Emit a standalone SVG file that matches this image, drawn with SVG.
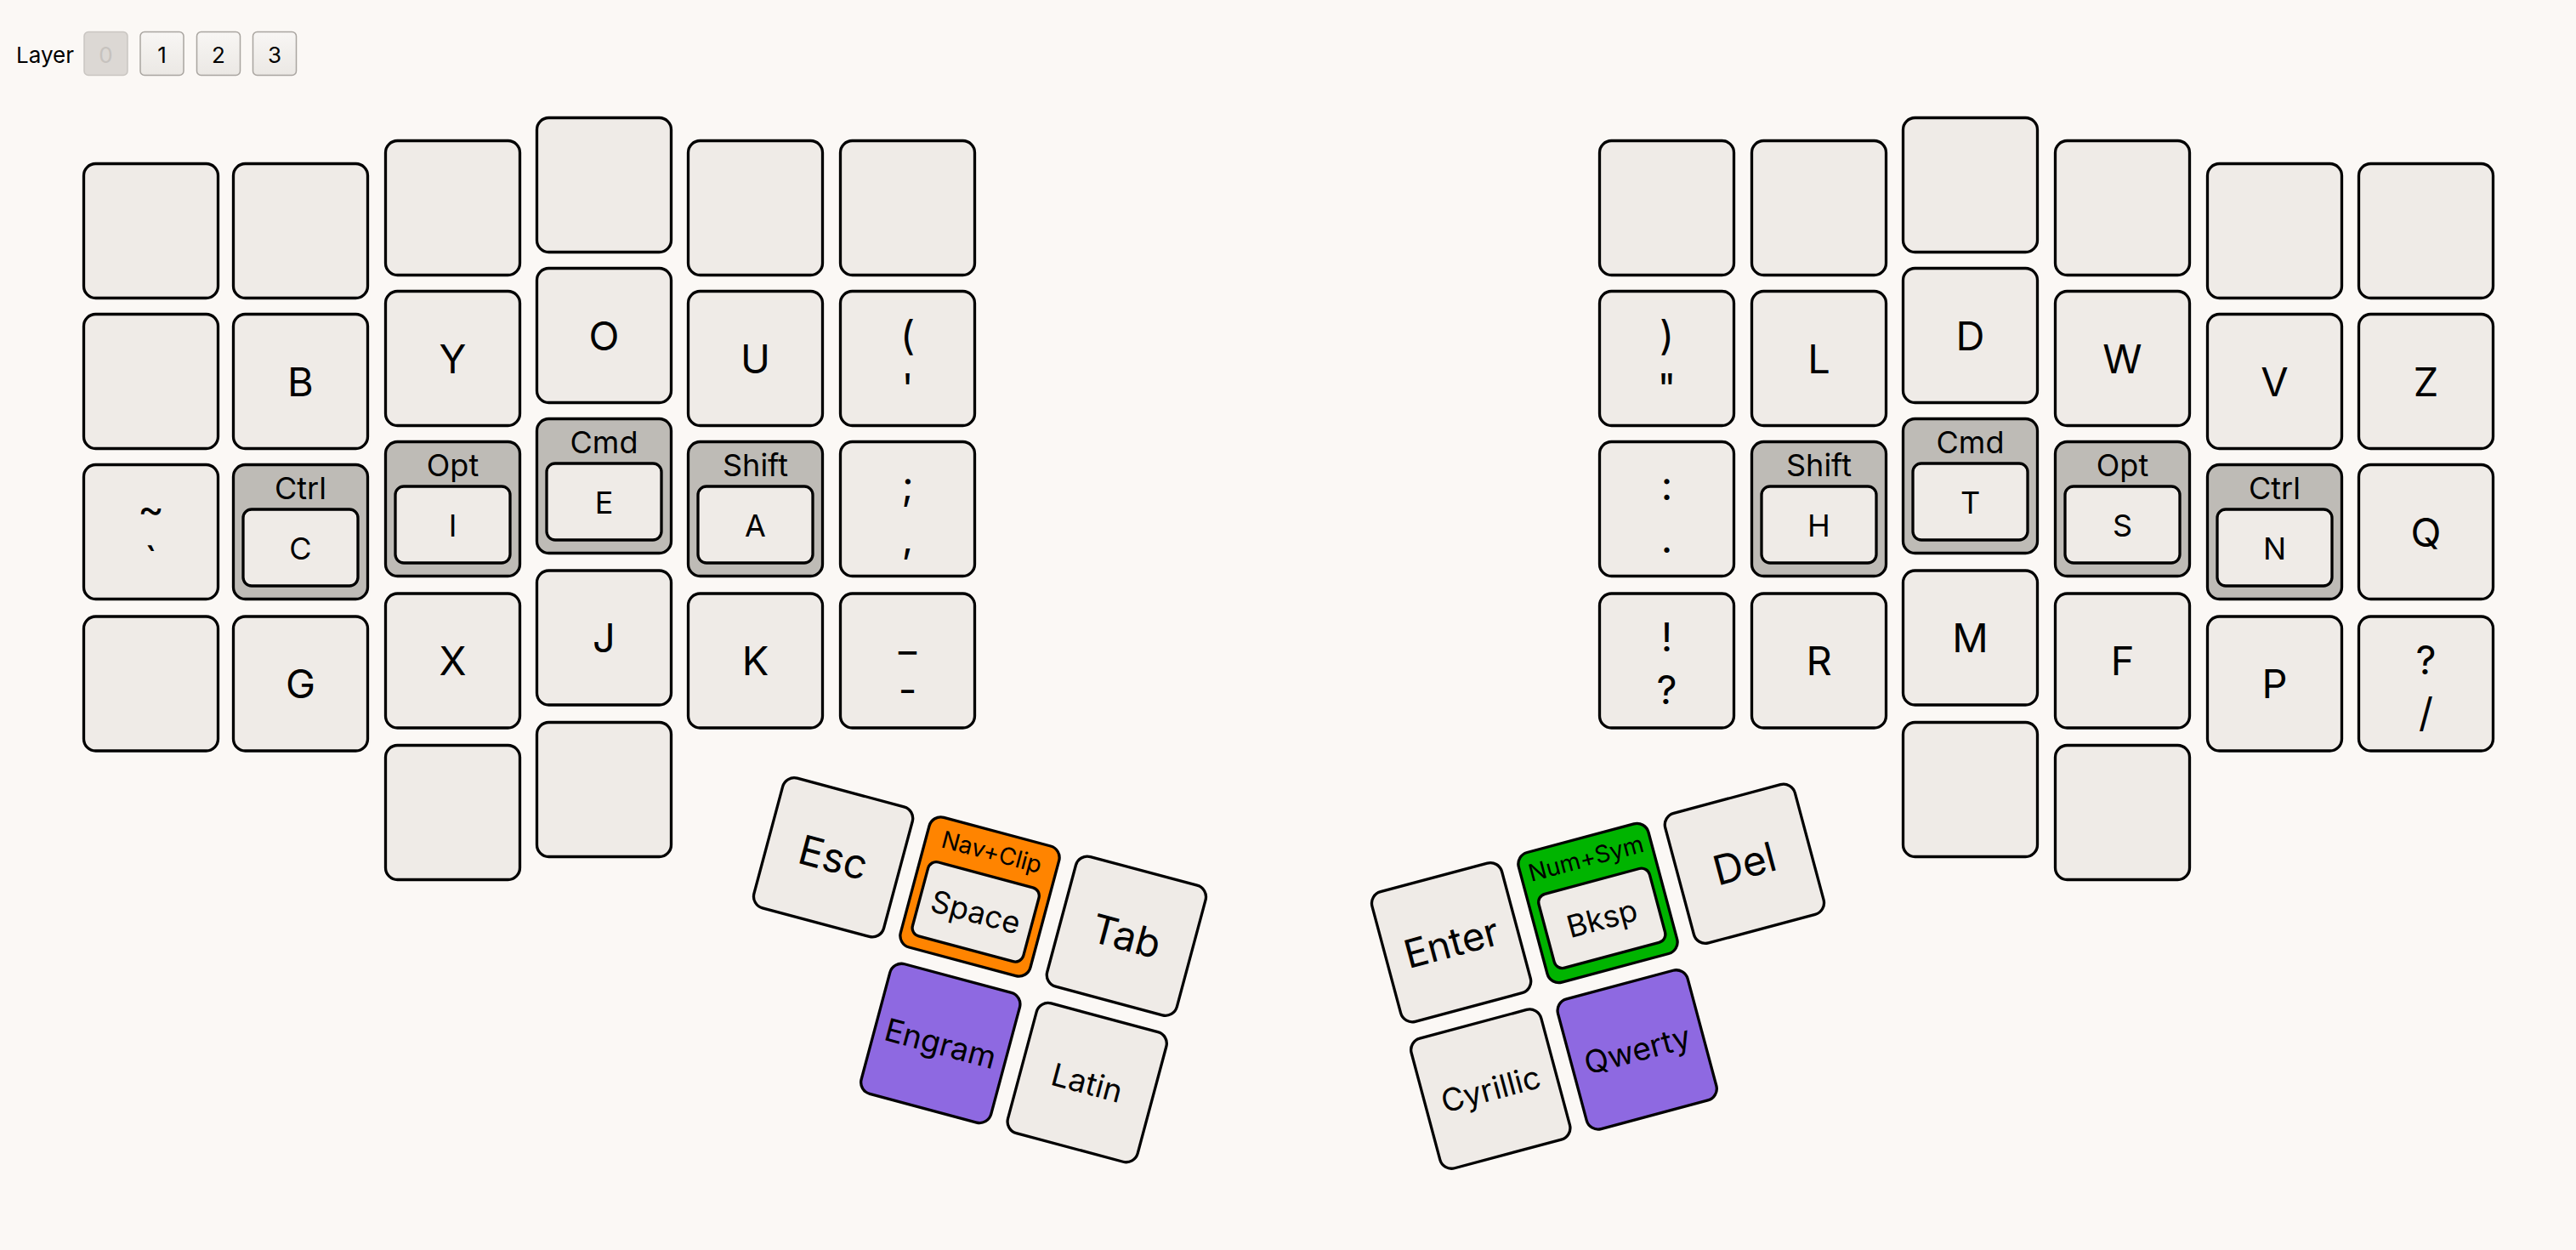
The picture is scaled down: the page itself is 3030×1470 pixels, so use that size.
<svg xmlns="http://www.w3.org/2000/svg" width="3030" height="1470" viewBox="0 0 3030 1470">
<style>
.bg{fill:#fbf8f5}
.k{fill:#efebe7;stroke:#000;stroke-width:3.3}
.h{fill:#bebbb6;stroke:#000;stroke-width:3.3}
.o{fill:#ff8400;stroke:#000;stroke-width:3.3}
.g{fill:#00b400;stroke:#000;stroke-width:3.3}
.p{fill:#8e69e1;stroke:#000;stroke-width:3.3}
text{font-family:Inter,"Liberation Sans",sans-serif;text-anchor:middle;fill:#000}
.L{font-size:47px}
.M{font-size:36px}
.S{font-size:28px}
.T{font-size:37px}
.btn{fill:#f2efec;stroke:#a9a5a0;stroke-width:1.5}
.btn0{fill:#dcd8d4;stroke:#c9c5c1;stroke-width:1.5}
.ui{font-size:26px}
</style>
<defs>
<linearGradient id="bg1" x1="0" y1="0" x2="0" y2="1"><stop offset="0" stop-color="#f8f6f4"/><stop offset="1" stop-color="#ebe8e4"/></linearGradient>
</defs>
<rect class="bg" x="0" y="0" width="3030" height="1470"/>
<g id="layer-selector">
<text class="ui" x="53" y="74">Layer</text>
<rect class="btn0" x="99" y="37.5" width="51" height="51" rx="5"/>
<text class="ui" x="124.5" y="74" style="fill:#c6c2be">0</text>
<rect class="btn" x="165" y="37.5" width="51" height="51" rx="5" style="fill:url(#bg1)"/>
<text class="ui" x="190.5" y="74">1</text>
<rect class="btn" x="231.5" y="37.5" width="51" height="51" rx="5" style="fill:url(#bg1)"/>
<text class="ui" x="257" y="74">2</text>
<rect class="btn" x="297.5" y="37.5" width="51" height="51" rx="5" style="fill:url(#bg1)"/>
<text class="ui" x="323" y="74">3</text>
</g>
<g id="connectors"/>
<!-- Left half -->
<g id="k-l1-r1" transform="translate(97,191)"><rect class="k" x="1.5" y="1.5" width="158" height="158" rx="14"/></g>
<g id="k-l1-r2" transform="translate(97,368)"><rect class="k" x="1.5" y="1.5" width="158" height="158" rx="14"/></g>
<g id="k-tilde" transform="translate(97,545)"><rect class="k" x="1.5" y="1.5" width="158" height="158" rx="14"/><text class="L" x="80.5" y="69.5">~</text><text class="L" x="80.5" y="131.5">`</text></g>
<g id="k-l1-r4" transform="translate(97,723.5)"><rect class="k" x="1.5" y="1.5" width="158" height="158" rx="14"/></g>

<g id="k-l2-r1" transform="translate(273,191)"><rect class="k" x="1.5" y="1.5" width="158" height="158" rx="14"/></g>
<g id="k-B" transform="translate(273,368)"><rect class="k" x="1.5" y="1.5" width="158" height="158" rx="14"/><text class="L" x="80.5" y="97.5">B</text></g>
<g id="k-C" transform="translate(273,545)"><rect class="h" x="1.5" y="1.5" width="158" height="158" rx="14"/><text class="M" x="80.5" y="41.7">Ctrl</text><rect class="k" x="13" y="54" width="135" height="90" rx="10"/><text class="M" x="80.5" y="112.5">C</text></g>
<g id="k-G" transform="translate(273,723.5)"><rect class="k" x="1.5" y="1.5" width="158" height="158" rx="14"/><text class="L" x="80.5" y="97.5">G</text></g>

<g id="k-l3-r1" transform="translate(452,164)"><rect class="k" x="1.5" y="1.5" width="158" height="158" rx="14"/></g>
<g id="k-Y" transform="translate(452,341)"><rect class="k" x="1.5" y="1.5" width="158" height="158" rx="14"/><text class="L" x="80.5" y="97.5">Y</text></g>
<g id="k-I" transform="translate(452,518)"><rect class="h" x="1.5" y="1.5" width="158" height="158" rx="14"/><text class="M" x="80.5" y="41.7">Opt</text><rect class="k" x="13" y="54" width="135" height="90" rx="10"/><text class="M" x="80.5" y="112.5">I</text></g>
<g id="k-X" transform="translate(452,696.5)"><rect class="k" x="1.5" y="1.5" width="158" height="158" rx="14"/><text class="L" x="80.5" y="97.5">X</text></g>
<g id="k-l3-r5" transform="translate(452,875)"><rect class="k" x="1.5" y="1.5" width="158" height="158" rx="14"/></g>

<g id="k-l4-r1" transform="translate(630,137)"><rect class="k" x="1.5" y="1.5" width="158" height="158" rx="14"/></g>
<g id="k-O" transform="translate(630,314)"><rect class="k" x="1.5" y="1.5" width="158" height="158" rx="14"/><text class="L" x="80.5" y="97.5">O</text></g>
<g id="k-E" transform="translate(630,491)"><rect class="h" x="1.5" y="1.5" width="158" height="158" rx="14"/><text class="M" x="80.5" y="41.7">Cmd</text><rect class="k" x="13" y="54" width="135" height="90" rx="10"/><text class="M" x="80.5" y="112.5">E</text></g>
<g id="k-J" transform="translate(630,669.5)"><rect class="k" x="1.5" y="1.5" width="158" height="158" rx="14"/><text class="L" x="80.5" y="97.5">J</text></g>
<g id="k-l4-r5" transform="translate(630,848)"><rect class="k" x="1.5" y="1.5" width="158" height="158" rx="14"/></g>

<g id="k-l5-r1" transform="translate(808,164)"><rect class="k" x="1.5" y="1.5" width="158" height="158" rx="14"/></g>
<g id="k-U" transform="translate(808,341)"><rect class="k" x="1.5" y="1.5" width="158" height="158" rx="14"/><text class="L" x="80.5" y="97.5">U</text></g>
<g id="k-A" transform="translate(808,518)"><rect class="h" x="1.5" y="1.5" width="158" height="158" rx="14"/><text class="M" x="80.5" y="41.7">Shift</text><rect class="k" x="13" y="54" width="135" height="90" rx="10"/><text class="M" x="80.5" y="112.5">A</text></g>
<g id="k-K" transform="translate(808,696.5)"><rect class="k" x="1.5" y="1.5" width="158" height="158" rx="14"/><text class="L" x="80.5" y="97.5">K</text></g>

<g id="k-l6-r1" transform="translate(987,164)"><rect class="k" x="1.5" y="1.5" width="158" height="158" rx="14"/></g>
<g id="k-quote" transform="translate(987,341)"><rect class="k" x="1.5" y="1.5" width="158" height="158" rx="14"/><text class="L" x="80.5" y="69.5">(</text><text class="L" x="80.5" y="131.5">'</text></g>
<g id="k-comma" transform="translate(987,518)"><rect class="k" x="1.5" y="1.5" width="158" height="158" rx="14"/><text class="L" x="80.5" y="69.5">;</text><text class="L" x="80.5" y="131.5">,</text></g>
<g id="k-minus" transform="translate(987,696.5)"><rect class="k" x="1.5" y="1.5" width="158" height="158" rx="14"/><text class="L" x="80.5" y="69.5">_</text><text class="L" x="80.5" y="131.5">-</text></g>

<!-- Right half -->
<g id="k-r7-r1" transform="translate(1880,164)"><rect class="k" x="1.5" y="1.5" width="158" height="158" rx="14"/></g>
<g id="k-dquote" transform="translate(1880,341)"><rect class="k" x="1.5" y="1.5" width="158" height="158" rx="14"/><text class="L" x="80.5" y="69.5">)</text><text class="L" x="80.5" y="131.5">"</text></g>
<g id="k-dot" transform="translate(1880,518)"><rect class="k" x="1.5" y="1.5" width="158" height="158" rx="14"/><text class="L" x="80.5" y="69.5">:</text><text class="L" x="80.5" y="131.5">.</text></g>
<g id="k-qmark" transform="translate(1880,696.5)"><rect class="k" x="1.5" y="1.5" width="158" height="158" rx="14"/><text class="L" x="80.5" y="69.5">!</text><text class="L" x="80.5" y="131.5">?</text></g>

<g id="k-r8-r1" transform="translate(2059,164)"><rect class="k" x="1.5" y="1.5" width="158" height="158" rx="14"/></g>
<g id="k-L" transform="translate(2059,341)"><rect class="k" x="1.5" y="1.5" width="158" height="158" rx="14"/><text class="L" x="80.5" y="97.5">L</text></g>
<g id="k-H" transform="translate(2059,518)"><rect class="h" x="1.5" y="1.5" width="158" height="158" rx="14"/><text class="M" x="80.5" y="41.7">Shift</text><rect class="k" x="13" y="54" width="135" height="90" rx="10"/><text class="M" x="80.5" y="112.5">H</text></g>
<g id="k-R" transform="translate(2059,696.5)"><rect class="k" x="1.5" y="1.5" width="158" height="158" rx="14"/><text class="L" x="80.5" y="97.5">R</text></g>

<g id="k-r9-r1" transform="translate(2237,137)"><rect class="k" x="1.5" y="1.5" width="158" height="158" rx="14"/></g>
<g id="k-D" transform="translate(2237,314)"><rect class="k" x="1.5" y="1.5" width="158" height="158" rx="14"/><text class="L" x="80.5" y="97.5">D</text></g>
<g id="k-T" transform="translate(2237,491)"><rect class="h" x="1.5" y="1.5" width="158" height="158" rx="14"/><text class="M" x="80.5" y="41.7">Cmd</text><rect class="k" x="13" y="54" width="135" height="90" rx="10"/><text class="M" x="80.5" y="112.5">T</text></g>
<g id="k-M" transform="translate(2237,669.5)"><rect class="k" x="1.5" y="1.5" width="158" height="158" rx="14"/><text class="L" x="80.5" y="97.5">M</text></g>
<g id="k-r9-r5" transform="translate(2237,848)"><rect class="k" x="1.5" y="1.5" width="158" height="158" rx="14"/></g>

<g id="k-r10-r1" transform="translate(2416,164)"><rect class="k" x="1.5" y="1.5" width="158" height="158" rx="14"/></g>
<g id="k-W" transform="translate(2416,341)"><rect class="k" x="1.5" y="1.5" width="158" height="158" rx="14"/><text class="L" x="80.5" y="97.5">W</text></g>
<g id="k-S" transform="translate(2416,518)"><rect class="h" x="1.5" y="1.5" width="158" height="158" rx="14"/><text class="M" x="80.5" y="41.7">Opt</text><rect class="k" x="13" y="54" width="135" height="90" rx="10"/><text class="M" x="80.5" y="112.5">S</text></g>
<g id="k-F" transform="translate(2416,696.5)"><rect class="k" x="1.5" y="1.5" width="158" height="158" rx="14"/><text class="L" x="80.5" y="97.5">F</text></g>
<g id="k-r10-r5" transform="translate(2416,875)"><rect class="k" x="1.5" y="1.5" width="158" height="158" rx="14"/></g>

<g id="k-r11-r1" transform="translate(2595,191)"><rect class="k" x="1.5" y="1.5" width="158" height="158" rx="14"/></g>
<g id="k-V" transform="translate(2595,368)"><rect class="k" x="1.5" y="1.5" width="158" height="158" rx="14"/><text class="L" x="80.5" y="97.5">V</text></g>
<g id="k-N" transform="translate(2595,545)"><rect class="h" x="1.5" y="1.5" width="158" height="158" rx="14"/><text class="M" x="80.5" y="41.7">Ctrl</text><rect class="k" x="13" y="54" width="135" height="90" rx="10"/><text class="M" x="80.5" y="112.5">N</text></g>
<g id="k-P" transform="translate(2595,723.5)"><rect class="k" x="1.5" y="1.5" width="158" height="158" rx="14"/><text class="L" x="80.5" y="97.5">P</text></g>

<g id="k-r12-r1" transform="translate(2773,191)"><rect class="k" x="1.5" y="1.5" width="158" height="158" rx="14"/></g>
<g id="k-Z" transform="translate(2773,368)"><rect class="k" x="1.5" y="1.5" width="158" height="158" rx="14"/><text class="L" x="80.5" y="97.5">Z</text></g>
<g id="k-Q" transform="translate(2773,545)"><rect class="k" x="1.5" y="1.5" width="158" height="158" rx="14"/><text class="L" x="80.5" y="97.5">Q</text></g>
<g id="k-slash" transform="translate(2773,723.5)"><rect class="k" x="1.5" y="1.5" width="158" height="158" rx="14"/><text class="L" x="80.5" y="69.5">?</text><text class="L" x="80.5" y="131.5">/</text></g>

<!-- Left thumbs -->
<g id="k-Esc" transform="translate(980.1,1008.3) rotate(15)"><rect class="k" x="-79" y="-79" width="158" height="158" rx="14"/><text class="L" x="0" y="17" style="font-size:48px">Esc</text></g>
<g id="k-Space" transform="translate(1152.5,1054.5) rotate(15)"><rect class="o" x="-79" y="-79" width="158" height="158" rx="14"/><text class="S" x="0" y="-44.5">Nav+Clip</text><rect class="k" x="-67.5" y="-26.5" width="135" height="90" rx="10"/><text class="M" x="0" y="31.5">Space</text></g>
<g id="k-Tab" transform="translate(1324.9,1100.7) rotate(15)"><rect class="k" x="-79" y="-79" width="158" height="158" rx="14"/><text class="L" x="0" y="17">Tab</text></g>
<g id="k-Engram" transform="translate(1106.3,1226.9) rotate(15)"><rect class="p" x="-79" y="-79" width="158" height="158" rx="14"/><text class="T" x="0" y="13.5">Engram</text></g>
<g id="k-Latin" transform="translate(1278.7,1273.1) rotate(15)"><rect class="k" x="-79" y="-79" width="158" height="158" rx="14"/><text class="T" x="0" y="13.5">Latin</text></g>

<!-- Right thumbs -->
<g id="k-Enter" transform="translate(1707.1,1108.2) rotate(-15)"><rect class="k" x="-79" y="-79" width="158" height="158" rx="14"/><text class="L" x="0" y="17" style="font-size:46px">Enter</text></g>
<g id="k-Bksp" transform="translate(1879.5,1062) rotate(-15)"><rect class="g" x="-79" y="-79" width="158" height="158" rx="14"/><text class="S" x="0" y="-44.5">Num+Sym</text><rect class="k" x="-67.5" y="-26.5" width="135" height="90" rx="10"/><text class="M" x="0" y="31.5">Bksp</text></g>
<g id="k-Del" transform="translate(2051.9,1015.8) rotate(-15)"><rect class="k" x="-79" y="-79" width="158" height="158" rx="14"/><text class="L" x="0" y="17" style="font-size:48px">Del</text></g>
<g id="k-Cyrillic" transform="translate(1753.3,1280.6) rotate(-15)"><rect class="k" x="-79" y="-79" width="158" height="158" rx="14"/><text class="T" x="0" y="13.5">Cyrillic</text></g>
<g id="k-Qwerty" transform="translate(1925.7,1234.4) rotate(-15)"><rect class="p" x="-79" y="-79" width="158" height="158" rx="14"/><text class="T" x="0" y="13.5">Qwerty</text></g>
</svg>
